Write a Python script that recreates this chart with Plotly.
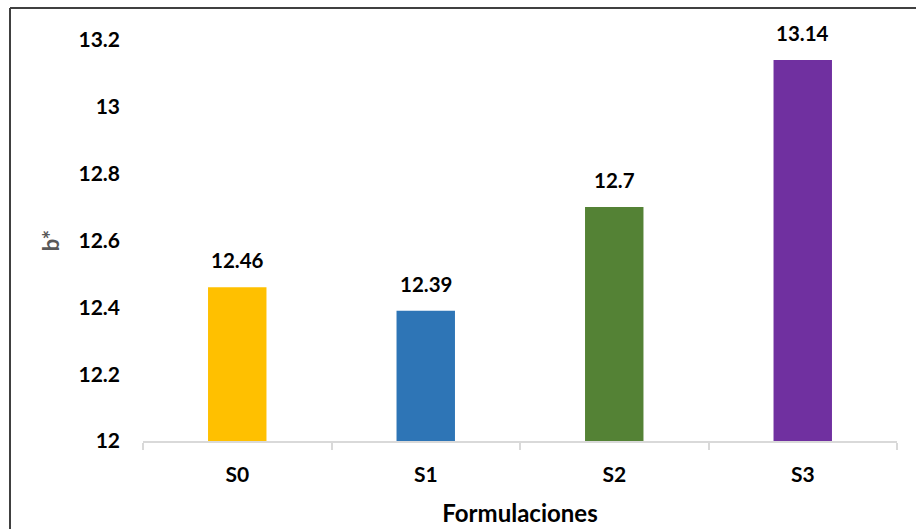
import plotly.graph_objects as go

categories = ["S0", "S1", "S2", "S3"]
values = [12.46, 12.39, 12.7, 13.14]
colors = ["#FFC000", "#2E75B6", "#548235", "#7030A0"]
y_ticks = [12, 12.2, 12.4, 12.6, 12.8, 13, 13.2]
y_tick_labels = ["12", "12.2", "12.4", "12.6", "12.8", "13", "13.2"]

FONT = "Lato"

fig = go.Figure()
fig.add_trace(go.Bar(
    x=categories, y=values, marker=dict(color=colors, line=dict(width=0)),
    width=0.31, hoverinfo="skip",
))

for c, v in zip(categories, values):
    fig.add_annotation(x=c, y=v, text=f"{v:g}", showarrow=False,
                       yanchor="bottom", yshift=13,
                       font=dict(family=FONT, size=20.5, color="#000000", weight="bold"))

fig.update_layout(
    width=916, height=529,
    margin=dict(l=143, r=19, t=40, b=88, autoexpand=False),
    paper_bgcolor="white", plot_bgcolor="white",
    showlegend=False,
    font=dict(family=FONT, color="#000000"),
    bargap=0.69,
)
fig.update_yaxes(
    automargin=False,
    range=[12, 13.2], tickvals=y_ticks, ticktext=y_tick_labels,
    showgrid=False, zeroline=False, showline=False, ticks="",
    ticklabelstandoff=22,
    tickfont=dict(family=FONT, size=21, color="#000000", weight="bold"),
    title=dict(text="b*", standoff=12,
               font=dict(family=FONT, size=22, color="#595959", weight="bold")),
)
fig.update_xaxes(
    automargin=False,
    showline=True, linecolor="#D9D9D9", linewidth=1.5,
    ticks="outside", tickson="boundaries", ticklen=7, tickcolor="#D9D9D9", tickwidth=1.5,
    showgrid=False, zeroline=False,
    ticklabelstandoff=14,
    tickfont=dict(family=FONT, size=21, color="#000000", weight="bold"),
    title=dict(text="Formulaciones", standoff=20,
               font=dict(family=FONT, size=24, color="#000000", weight="bold")),
)

# chart frame (cropped at right and bottom)
fig.add_shape(type="line", xref="paper", yref="paper",
              x0=-133/754, x1=1.2, y0=(441-8)/401, y1=(441-8)/401,
              line=dict(color="#404040", width=2))
fig.add_shape(type="line", xref="paper", yref="paper",
              x0=-133/754, x1=-133/754, y0=(441-8)/401, y1=-0.3,
              line=dict(color="#404040", width=2))

fig.write_html("out.html")
